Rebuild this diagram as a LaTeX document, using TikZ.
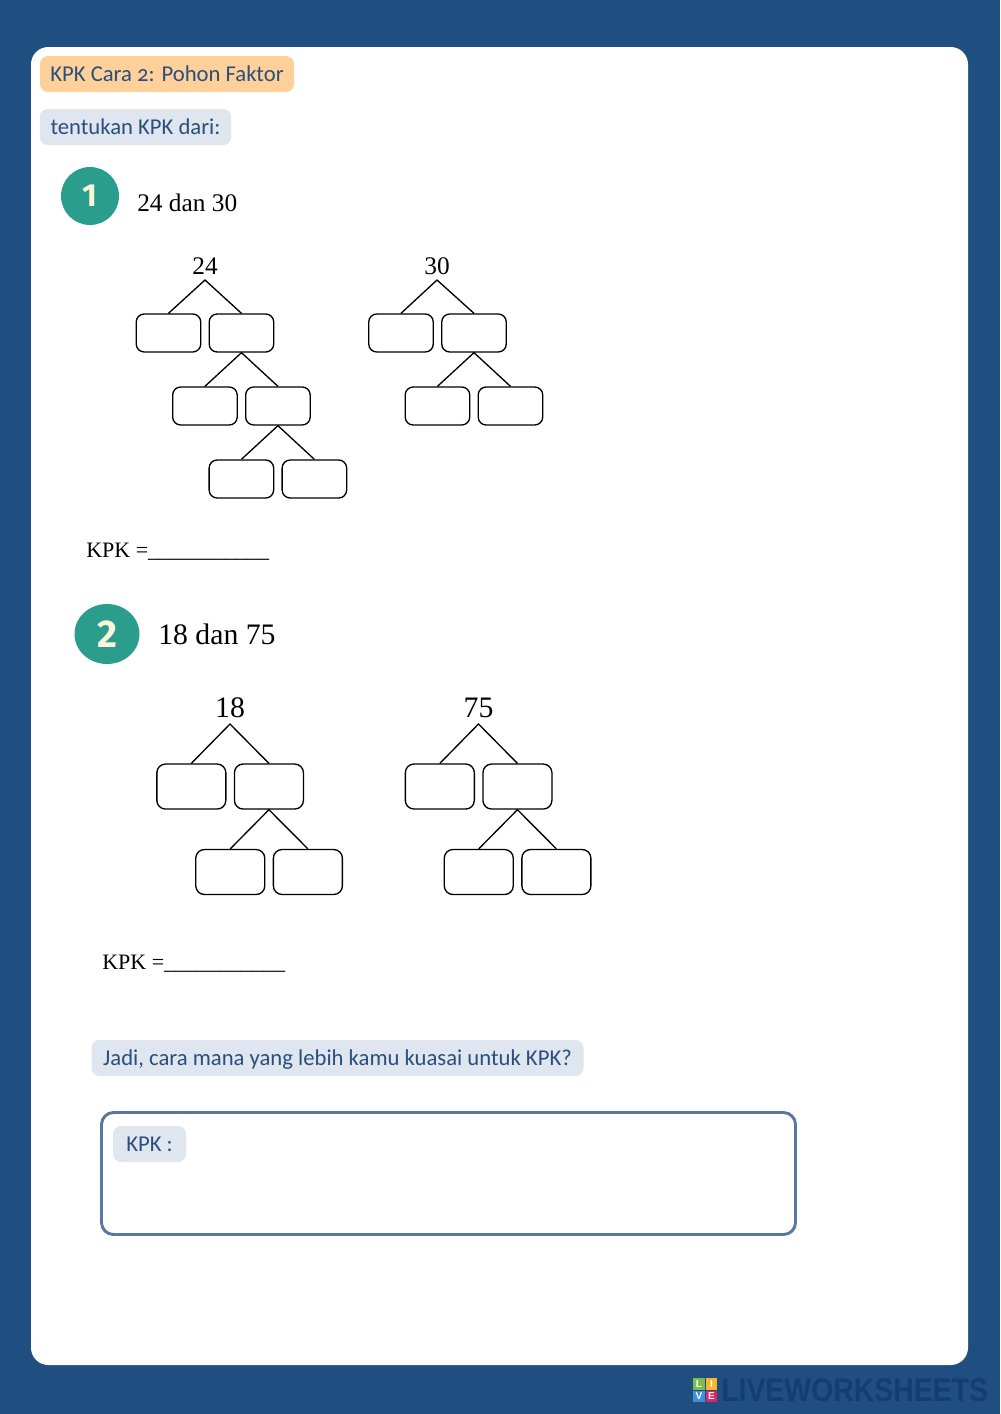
\documentclass[tikz,border=0pt]{standalone}
\usepackage{graphicx}
\usepackage{fontspec}
\setmainfont[Numbers=OldStyle]{Carlito}
\newfontfamily\numfont{Liberation Serif}
\newfontfamily\markfont{Fira Sans}
\newfontfamily\logofont{Liberation Sans}
\usetikzlibrary{positioning,shapes.geometric}
\definecolor{pagebg}{HTML}{1F4E80}
\definecolor{inkblue}{HTML}{2A4F7C}
\definecolor{pillgrey}{HTML}{DFE6EF}
\definecolor{pillorange}{HTML}{FFD09A}
\definecolor{tealmark}{HTML}{2A9D8C}
\definecolor{creammark}{HTML}{FBF6D8}
\definecolor{frameblue}{HTML}{5B77A0}
\definecolor{logoblue}{HTML}{123F73}
\definecolor{tilegreen}{HTML}{7CBC4A}
\definecolor{tileyellow}{HTML}{F5B731}
\definecolor{tileblue}{HTML}{3F8FDC}
\definecolor{tilered}{HTML}{E0245E}
\begin{document}
\begin{tikzpicture}[
	x=0.75pt, y=-0.75pt,
	node distance=54.75pt,
	pill/.style={rectangle, rounded corners=6pt, inner sep=0pt, text=inkblue, font=\fontsize{17}{20}\selectfont, text height=13.5pt, text depth=2pt, minimum height=27pt},
	leafa/.style={rectangle, draw, rounded corners=6pt, line width=1pt, minimum width=48.4pt, minimum height=28.5pt, inner sep=0pt},
	leafb/.style={rectangle, draw, rounded corners=6.5pt, line width=1pt, minimum width=51.75pt, minimum height=33.75pt, inner sep=0pt},
	rootsmall/.style={font=\numfont\fontsize{19}{20}\selectfont, inner sep=0pt},
	rootbig/.style={font=\numfont\fontsize{22.3}{24}\selectfont, inner sep=0pt},
	branch/.style={line width=1pt},
	logotile/.style={rectangle, minimum size=8.6pt, inner sep=0pt, text=white, font=\logofont\bfseries\fontsize{7.5}{8}\selectfont}
	]
	
	% Page
	\fill[pagebg] (0,0) rectangle (1000,1414);
	\useasboundingbox (0,0) rectangle (1000,1414);
	\fill[white, rounded corners=13pt] (31,47) rectangle (968,1365);
	
	% Headings
	\node[pill, fill=pillorange, minimum width=190.5pt] (title) at (167,74) {KPK Cara 2: Pohon Faktor};
	\node[pill, fill=pillgrey, minimum width=143.5pt] (ask) at (135.5,127) {tentukan KPK dari:};
	
	% Question 1
	\node[circle, fill=tealmark, minimum size=43.5pt, inner sep=0pt, text=creammark, font=\markfont\bfseries\fontsize{24}{26}\selectfont] (markone) at (90,196) {1};
	\node[right, inner sep=0pt, font=\numfont\fontsize{19}{20}\selectfont] (qone) at (137,203) {24 dan 30};
	
	% Tree 24
	\node[rootsmall] (n24) at (205,266) {24};
	\coordinate (top24) at (205,280);
	\node[leafa, node distance=39.75pt, below of=top24, xshift=-27.4pt] (a24) {};
	\node[leafa, right of=a24] (b24) {};
	\node[leafa, below of=b24, xshift=-27.4pt] (c24) {};
	\node[leafa, right of=c24] (d24) {};
	\node[leafa, below of=d24, xshift=-27.4pt] (e24) {};
	\node[leafa, right of=e24] (f24) {};
	\draw[branch] (a24.north) -- (top24) -- (b24.north);
	\draw[branch] (c24.north) -- (b24.south) -- (d24.north);
	\draw[branch] (e24.north) -- (d24.south) -- (f24.north);
	
	% Tree 30
	\node[rootsmall] (n30) at (437,266) {30};
	\coordinate (top30) at (437,280);
	\node[leafa, node distance=39.75pt, below of=top30, xshift=-27pt] (a30) {};
	\node[leafa, right of=a30] (b30) {};
	\node[leafa, below of=b30, xshift=-27.4pt] (c30) {};
	\node[leafa, right of=c30] (d30) {};
	\draw[branch] (a30.north) -- (top30) -- (b30.north);
	\draw[branch] (c30.north) -- (b30.south) -- (d30.north);
	
	% Answer 1
	\node[right, inner sep=0pt, font=\numfont\fontsize{16.5}{20}\selectfont] (kpkone) at (86,552) {KPK =\_\_\_\_\_\_\_\_\_\_\_};
	
	% Question 2
	\node[ellipse, fill=tealmark, minimum width=48.75pt, minimum height=45pt, inner sep=0pt, text=creammark, font=\markfont\bfseries\fontsize{29}{30}\selectfont] (marktwo) at (107,634) {2};
	\node[right, inner sep=0pt, font=\numfont\fontsize{22.3}{24}\selectfont] (qtwo) at (158,634) {18 dan 75};
	
	% Tree 18
	\node[rootbig] (n18) at (230,708) {18};
	\coordinate (top18) at (230,724);
	\node[leafb, node distance=46.9pt, below of=top18, xshift=-29pt] (a18) {};
	\node[leafb, node distance=58.2pt, right of=a18] (b18) {};
	\node[leafb, node distance=64.1pt, below of=b18, xshift=-29pt] (c18) {};
	\node[leafb, node distance=58.2pt, right of=c18] (d18) {};
	\draw[branch] (a18.north) -- (top18) -- (b18.north);
	\draw[branch] (c18.north) -- (b18.south) -- (d18.north);
	
	% Tree 75
	\node[rootbig] (n75) at (478.5,708) {75};
	\coordinate (top75) at (478.5,724);
	\node[leafb, node distance=46.9pt, below of=top75, xshift=-29pt] (a75) {};
	\node[leafb, node distance=58.2pt, right of=a75] (b75) {};
	\node[leafb, node distance=64.1pt, below of=b75, xshift=-29pt] (c75) {};
	\node[leafb, node distance=58.2pt, right of=c75] (d75) {};
	\draw[branch] (a75.north) -- (top75) -- (b75.north);
	\draw[branch] (c75.north) -- (b75.south) -- (d75.north);
	
	% Answer 2
	\node[right, inner sep=0pt, font=\numfont\fontsize{16.5}{20}\selectfont] (kpktwo) at (102,964) {KPK =\_\_\_\_\_\_\_\_\_\_\_};
	
	% Closing question
	\node[pill, fill=pillgrey, minimum width=369pt] (closing) at (337.5,1058) {Jadi, cara mana yang lebih kamu kuasai untuk KPK?};
	\node[rectangle, draw=frameblue, line width=2.2pt, rounded corners=9pt, minimum width=520.5pt, minimum height=91.5pt] (answerbox) at (448.5,1173.5) {};
	\node[pill, fill=pillgrey, minimum width=54.75pt] (kpkpill) at (149.5,1144) {KPK :};
	
	% Logo
	\node[logotile, fill=tilegreen] (tilel) at (699,1384) {L};
	\node[logotile, fill=tileyellow, right=0.3pt of tilel] (tilei) {I};
	\node[logotile, fill=tileblue, below=0.3pt of tilel] (tilev) {V};
	\node[logotile, fill=tilered, right=0.3pt of tilev] (tilee) {E};
	\node[right, inner sep=0pt, text=logoblue, font=\logofont\bfseries\fontsize{24.5}{26}\selectfont] (logoword) at (721,1390) {\scalebox{0.87}[1]{LIVEWORKSHEETS}};
	
\end{tikzpicture}
\end{document}
